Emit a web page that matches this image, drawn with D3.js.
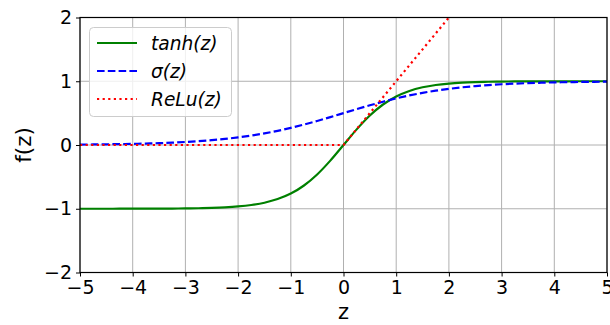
<!DOCTYPE html>
<html>
<head>
<meta charset="utf-8">
<script src="https://cdn.jsdelivr.net/npm/d3@7"></script>
<style>
  body { margin: 0; background: #fff; }
  svg { display: block; font-family: "DejaVu Sans", sans-serif; }
</style>
</head>
<body>
<svg width="610" height="325"></svg>
<script>
// sample points
const zValues = [-5, -4.75, -4.5, -4.25, -4, -3.75, -3.5, -3.25, -3, -2.75, -2.5, -2.25, -2, -1.75, -1.5, -1.25, -1, -0.75, -0.5, -0.25,
  0, 0.25, 0.5, 0.75, 1, 1.25, 1.5, 1.75, 2, 2.25, 2.5, 2.75, 3, 3.25, 3.5, 3.75, 4, 4.25, 4.5, 4.75, 5];
const tanhValues = [-0.9999, -0.9998, -0.9998, -0.9996, -0.9993, -0.9989, -0.9982, -0.9970, -0.9951, -0.9918, -0.9866, -0.9780, -0.9640, -0.9414, -0.9051, -0.8483, -0.7616, -0.6351, -0.4621, -0.2449,
  0, 0.2449, 0.4621, 0.6351, 0.7616, 0.8483, 0.9051, 0.9414, 0.9640, 0.9780, 0.9866, 0.9918, 0.9951, 0.9970, 0.9982, 0.9989, 0.9993, 0.9996, 0.9998, 0.9998, 0.9999];
const sigmaValues = [0.0067, 0.0086, 0.0110, 0.0141, 0.0180, 0.0230, 0.0293, 0.0373, 0.0474, 0.0601, 0.0759, 0.0953, 0.1192, 0.1480, 0.1824, 0.2227, 0.2689, 0.3208, 0.3775, 0.4378,
  0.5, 0.5622, 0.6225, 0.6792, 0.7311, 0.7773, 0.8176, 0.8520, 0.8808, 0.9047, 0.9241, 0.9399, 0.9526, 0.9627, 0.9707, 0.9770, 0.9820, 0.9859, 0.9890, 0.9914, 0.9933];
const reluValues = [0, 0, 0, 0, 0, 0, 0, 0, 0, 0, 0, 0, 0, 0, 0, 0, 0, 0, 0, 0,
  0, 0.25, 0.5, 0.75, 1, 1.25, 1.5, 1.75, 2, 2.25, 2.5, 2.75, 3, 3.25, 3.5, 3.75, 4, 4.25, 4.5, 4.75, 5];
const xTicks = [-5, -4, -3, -2, -1, 0, 1, 2, 3, 4, 5];
const yTicks = [-2, -1, 0, 1, 2];
const seriesNames = ['tanh(z)', 'σ(z)', 'ReLu(z)'];

const plotLeft = 80, plotRight = 607, plotTop = 17.5, plotBottom = 272.5;

const svg = d3.select('svg');

const x = d3.scaleLinear().domain([-5, 5]).range([plotLeft, plotRight]);
const y = d3.scaleLinear().domain([-2, 2]).range([plotBottom, plotTop]);

svg.append('defs').append('clipPath')
  .attr('id', 'plot')
  .append('rect')
  .attr('x', plotLeft).attr('y', plotTop)
  .attr('width', plotRight - plotLeft).attr('height', plotBottom - plotTop);

// grid
svg.append('g')
  .selectAll('line')
  .data(xTicks)
  .enter()
  .append('line')
  .attr('x1', d => x(d)).attr('x2', d => x(d))
  .attr('y1', plotTop).attr('y2', plotBottom)
  .style('stroke', '#b0b0b0')
  .style('stroke-width', 1);

svg.append('g')
  .selectAll('line')
  .data(yTicks)
  .enter()
  .append('line')
  .attr('x1', plotLeft).attr('x2', plotRight)
  .attr('y1', d => y(d)).attr('y2', d => y(d))
  .style('stroke', '#b0b0b0')
  .style('stroke-width', 1);

// curves
const series = [
  { name: seriesNames[0], values: tanhValues, color: '#008000', dash: null, curve: d3.curveMonotoneX },
  { name: seriesNames[1], values: sigmaValues, color: '#0000ff', dash: '7.6,3.2', curve: d3.curveMonotoneX },
  { name: seriesNames[2], values: reluValues, color: '#ff0000', dash: '2.2,3.4', curve: d3.curveLinear }
];

const lines = svg.append('g').attr('clip-path', 'url(#plot)');

series.forEach(s => {
  const line = d3.line()
    .x((d, i) => x(zValues[i]))
    .y(d => y(d))
    .curve(s.curve);
  lines.append('path')
    .datum(s.values)
    .attr('d', line)
    .style('fill', 'none')
    .style('stroke', s.color)
    .style('stroke-width', 2.2)
    .style('stroke-dasharray', s.dash);
});

// axes
const xAxis = svg.append('g')
  .attr('transform', `translate(0,${plotBottom})`)
  .call(d3.axisBottom(x).tickValues(xTicks).tickSize(4).tickPadding(4).tickFormat(d3.format('d')));

const yAxis = svg.append('g')
  .attr('transform', `translate(${plotLeft},0)`)
  .call(d3.axisLeft(y).tickValues(yTicks).tickSize(4).tickPadding(4).tickFormat(d3.format('d')));

[xAxis, yAxis].forEach(a => {
  a.select('.domain').remove();
  a.attr('font-family', null).attr('font-size', null);
  a.selectAll('text').style('font-size', '19px').style('fill', '#000');
  a.selectAll('line').style('stroke', '#000').style('stroke-width', 1);
});

// frame
svg.append('rect')
  .attr('x', plotLeft).attr('y', plotTop)
  .attr('width', plotRight - plotLeft).attr('height', plotBottom - plotTop)
  .style('fill', 'none')
  .style('stroke', '#000')
  .style('stroke-width', 1.2);

// axis labels
svg.append('text')
  .text('z')
  .attr('x', (plotLeft + plotRight) / 2)
  .attr('y', 319)
  .attr('text-anchor', 'middle')
  .style('font-size', '21px');

svg.append('text')
  .text('f(z)')
  .attr('transform', `translate(31,${(plotTop + plotBottom) / 2}) rotate(-90)`)
  .attr('text-anchor', 'middle')
  .style('font-size', '21.5px');

// legend
const legend = svg.append('g');
legend.append('rect')
  .attr('x', 89.5).attr('y', 27.5)
  .attr('width', 142).attr('height', 89)
  .attr('rx', 4)
  .style('fill', 'rgba(255,255,255,0.8)')
  .style('stroke', '#cccccc')
  .style('stroke-width', 1);

const items = legend.selectAll('g.item')
  .data(series)
  .enter()
  .append('g')
  .attr('transform', (d, i) => `translate(0,${43 + i * 28})`);

items.append('line')
  .attr('x1', 97).attr('x2', 137)
  .attr('y1', 0).attr('y2', 0)
  .style('stroke', d => d.color)
  .style('stroke-width', 2.2)
  .style('stroke-dasharray', d => d.dash);

items.append('text')
  .text(d => d.name)
  .attr('x', 151)
  .attr('y', 7)
  .style('font-size', '18.6px')
  .style('font-style', 'italic');
</script>
</body>
</html>
